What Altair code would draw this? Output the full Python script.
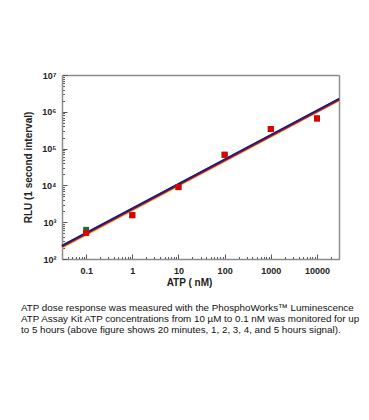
import altair as alt
import pandas as pd

# --- data -------------------------------------------------------------
concentrations = [0.1, 1, 10, 100, 1000, 10000]          # ATP (nM)
rlu_red = [510, 1550, 9000, 68000, 340000, 660000]         # measured RLU (visible red squares)
rlu_green = [620, 1550, 9000, 68000, 340000, 660000]       # an underlying series (green at 0.1 nM)

series_names = ["5 hours", "4 hours", "3 hours", "2 hours", "1 hour", "20 minutes"]
series_colors = ["#f6d35a", "#f29030", "#d62020", "#9a1838", "#5a1d86", "#1c1c70"]
fit_x = [0.03, 30000]
fit_start = [200, 207, 214, 220, 226, 232]
fit_end = [1.98e6, 2.04e6, 2.1e6, 2.16e6, 2.22e6, 2.28e6]

caption = [
    "ATP dose response was measured with the PhosphoWorks\u2122 Luminescence",
    "ATP Assay Kit ATP concentrations from 10 \u00b5M to 0.1 nM was monitored for up",
    "to 5 hours (above figure shows 20 minutes, 1, 2, 3, 4, and 5 hours signal).",
]

x_ticks = [m * 10 ** e for e in range(-2, 5) for m in range(1, 10)]
x_ticks = [v for v in x_ticks if 0.03 - 1e-9 <= v <= 30000 + 1e-6]
y_ticks = [m * 10 ** e for e in range(2, 7) for m in range(1, 10)] + [10 ** 7]

# --- tables ----------------------------------------------------------
pts_green = pd.DataFrame({"atp": concentrations, "rlu": rlu_green})
pts_red = pd.DataFrame({"atp": concentrations, "rlu": rlu_red})
lines = pd.DataFrame(
    [
        {"atp": fit_x[0], "rlu": a, "series": n, "order": i}
        for i, (n, a) in enumerate(zip(series_names, fit_start))
    ]
    + [
        {"atp": fit_x[1], "rlu": b, "series": n, "order": i}
        for i, (n, b) in enumerate(zip(series_names, fit_end))
    ]
)

W, H = 277, 184
FONT = "Liberation Sans"
FRAME = "#8c8c8c"
is_major = "abs(log(datum.value)/LN10 - round(log(datum.value)/LN10)) < 0.001"
sup = "['\u2070','\u00b9','\u00b2','\u00b3','\u2074','\u2075','\u2076','\u2077']"

xscale = alt.Scale(type="log", domain=[0.03, 30000], nice=False)
yscale = alt.Scale(type="log", domain=[100, 1e7], nice=False)

tick_size = {"condition": {"test": is_major, "value": 5}, "value": 2.5}

# green squares (mostly hidden); their axes draw the top and right frame edges
green = alt.Chart(pts_green).mark_square(size=36, opacity=1, color="#1f6b3a").encode(
    x=alt.X("atp:Q", scale=xscale, axis=alt.Axis(
        orient="top", ticks=False, labels=False, grid=False, title=None,
        domain=True, domainColor=FRAME, domainWidth=1.5)),
    y=alt.Y("rlu:Q", scale=yscale, axis=alt.Axis(
        orient="right", ticks=False, labels=False, grid=False, title=None,
        domain=True, domainColor=FRAME, domainWidth=1.5)),
)

# red squares carry labelled axes (bottom / left) with frame edges, no ticks
red = alt.Chart(pts_red).mark_square(size=36, opacity=1, color="#e00000").encode(
    x=alt.X("atp:Q", scale=xscale, axis=alt.Axis(
        orient="bottom", values=x_ticks, ticks=False, grid=False,
        domain=True, domainColor=FRAME, domainWidth=1.5,
        labelExpr=f"({is_major}) ? format(datum.value, '~g') : ''",
        labelOverlap=False, labelFlush=False, labelPadding=7,
        labelFont=FONT, labelFontSize=9, labelFontWeight="bold", labelColor="#222",
        title="ATP ( nM)", titleFont=FONT, titleFontSize=10, titleFontWeight="bold",
        titleColor="#222", titlePadding=2, titleX=127)),
    y=alt.Y("rlu:Q", scale=yscale, axis=alt.Axis(
        orient="left", values=y_ticks, ticks=False, grid=False,
        domain=True, domainColor=FRAME, domainWidth=1.5,
        labelExpr=f"({is_major}) ? '10' + {sup}[round(log(datum.value)/LN10)] : ''",
        labelOverlap=False, labelFlush=False, labelPadding=6,
        labelFont=FONT, labelFontSize=9, labelFontWeight="bold", labelColor="#222",
        title="RLU (1 second interval)", titleFont=FONT, titleFontSize=10,
        titleFontWeight="bold", titleColor="#222", titlePadding=8)),
)

# line layer carries inward-pointing tick axes (top axis moved to the bottom edge,
# right axis moved to the left edge)
fits = alt.Chart(lines).mark_line(strokeWidth=1.6).encode(
    x=alt.X("atp:Q", scale=xscale, axis=alt.Axis(
        orient="top", offset=-H, values=x_ticks, labels=False, domain=False,
        grid=False, title=None, tickSize=tick_size, tickColor="#555", tickWidth=1)),
    y=alt.Y("rlu:Q", scale=yscale, axis=alt.Axis(
        orient="right", offset=-W, values=y_ticks, labels=False, domain=False,
        grid=False, title=None, tickSize=tick_size, tickColor="#555", tickWidth=1)),
    color=alt.Color("series:N", scale=alt.Scale(domain=series_names, range=series_colors), legend=None),
    detail="series:N",
    order=alt.Order("order:Q"),
)

chart = (
    alt.layer(fits, green, red)
    .resolve_axis(x="independent", y="independent")
    .properties(
        width=W,
        height=H,
        background="white",
        autosize=alt.AutoSizeParams(type="none"),
        padding={"left": 54, "top": 67, "right": 22, "bottom": 130},
        title=alt.TitleParams(
            text=caption, orient="bottom", anchor="start", frame="group",
            font=FONT, fontSize=9.8, fontWeight="normal", color="#111",
            lineHeight=10.8, offset=16, dx=-41,
        ),
    )
    .configure_view(strokeWidth=0)
)

chart.save("out.html", embed_options={"renderer": "svg", "actions": False})
